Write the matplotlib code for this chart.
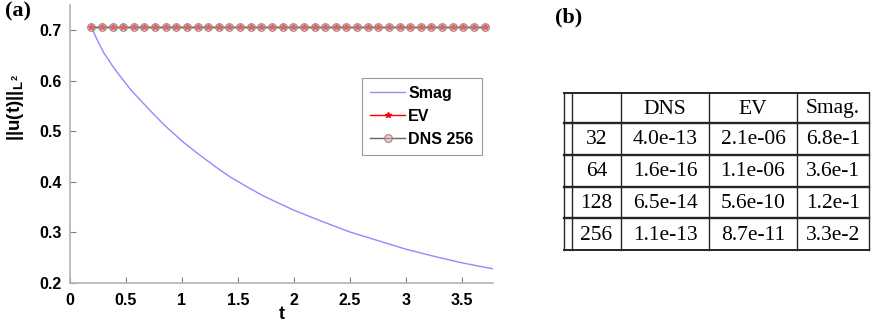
import numpy as np
import matplotlib
matplotlib.use("Agg")
import matplotlib.pyplot as plt
from matplotlib.ticker import FormatStrFormatter

plt.rcParams['font.family'] = ['Liberation Sans', 'DejaVu Sans']
plt.rcParams['mathtext.fontset'] = 'custom'
plt.rcParams['mathtext.rm'] = 'Liberation Sans:bold'
plt.rcParams['mathtext.it'] = 'Liberation Sans:bold'
plt.rcParams['mathtext.bf'] = 'Liberation Sans:bold'

# ---- panel (a) data ----
t_smag = [0.19, 0.22, 0.25, 0.30, 0.40, 0.54, 0.70, 0.84, 1.00, 1.13, 1.30,
          1.43, 1.60, 1.73, 2.00, 2.25, 2.50, 2.75, 3.00, 3.25, 3.50, 3.78]
smag = [0.707, 0.692, 0.678, 0.656, 0.623, 0.583, 0.545, 0.513, 0.481, 0.458,
        0.430, 0.410, 0.388, 0.372, 0.344, 0.322, 0.301, 0.284, 0.267, 0.253,
        0.240, 0.228]

t_ev = [0.19, 0.285, 0.38, 0.475, 0.57, 0.665, 0.76, 0.855, 0.95, 1.045,
        1.14, 1.235, 1.33, 1.425, 1.52, 1.615, 1.71, 1.805, 1.90, 1.995,
        2.09, 2.185, 2.28, 2.375, 2.47, 2.565, 2.66, 2.755, 2.85, 2.945,
        3.04, 3.135, 3.23, 3.325, 3.42, 3.515, 3.61, 3.705]
ev = [0.7071] * len(t_ev)
dns = [0.7071] * len(t_ev)

# ---- panel (b) table ----
col_labels = ["", "DNS", "EV", "Smag."]
row_labels = ["32", "64", "128", "256"]
dns_err = ["4.0e-13", "1.6e-16", "6.5e-14", "1.1e-13"]
ev_err = ["2.1e-06", "1.1e-06", "5.6e-10", "8.7e-11"]
smag_err = ["6.8e-1", "3.6e-1", "1.2e-1", "3.3e-2"]

W, H = 872, 329
fig = plt.figure(figsize=(W / 100, H / 100), dpi=100)

ax = fig.add_axes([70 / W, (H - 283) / H, (493 - 70) / W, (283 - 5) / H])
ax.plot(t_smag, smag, color=(0.55, 0.55, 1.0), lw=1.0, label="Smag")
ax.plot(t_ev, ev, color='red', lw=1.0, marker='*', ms=4, label="EV")
ax.plot(t_ev, dns, color='0.4', lw=1.0, marker='o', ms=5.5, mfc=(1, 0.6, 0.6, 0.5),
        mec='0.55', mew=0.8, label="DNS 256")

ax.set_xlim(0, 3.78)
ax.set_ylim(0.2, 0.75)
ax.set_xticks(np.arange(0, 3.6, 0.5))
ax.set_yticks([0.2, 0.3, 0.4, 0.5, 0.6, 0.7])
ax.xaxis.set_major_formatter(FormatStrFormatter('%g'))
ax.yaxis.set_major_formatter(FormatStrFormatter('%g'))
for s in ['top', 'right']:
    ax.spines[s].set_visible(False)
for s in ['left', 'bottom']:
    ax.spines[s].set_color('0.7')
    ax.spines[s].set_linewidth(1.2)
ax.tick_params(direction='in', length=4, color='0.5', labelsize=11.5)
ax.tick_params(axis='y', pad=6)
ax.tick_params(axis='x', pad=7)
for lab in ax.get_xticklabels() + ax.get_yticklabels():
    lab.set_fontweight('bold')
ax.set_xlabel('t', fontsize=13, fontweight='bold', labelpad=-1)
ax.set_ylabel(r'||u(t)||$_{L^2}$', fontsize=13.5, fontweight='bold')
ax.yaxis.set_label_coords(-0.105, 0.63)

leg = ax.legend(loc='upper left', bbox_to_anchor=(362 / W, 1 - 78 / H),
                bbox_transform=fig.transFigure, borderaxespad=0,
                fancybox=False, edgecolor='0.5', fontsize=11.5,
                handlelength=2.2, borderpad=0.5, labelspacing=0.5,
                handletextpad=0.2)
leg.get_frame().set_linewidth(0.8)
for txt in leg.get_texts():
    txt.set_fontweight('bold')

fig.text(5 / W, 1 - 11 / H, '(a)', family=['Liberation Serif'],
         fontweight='bold', fontsize=16, va='center')
fig.text(555 / W, 1 - 17 / H, '(b)', family=['Liberation Serif'],
         fontweight='bold', fontsize=16, va='center')

# table drawn on a pixel-coordinate axes
tx = fig.add_axes([0, 0, 1, 1])
tx.set_xlim(0, W)
tx.set_ylim(H, 0)
tx.axis('off')
col_x = [572, 621, 709, 797, 869]
row_y = [93, 123, 155, 187, 218, 250]
for k, y in enumerate(row_y):
    tx.plot([564, col_x[-1]], [y, y], color='0.15',
            lw=1.4 if k in (0, len(row_y) - 1) else 1.7)
for x in [564] + col_x:
    tx.plot([x, x], [row_y[0], row_y[-1]], color='0.15', lw=1.0)

cells = [col_labels] + [[r, d, e, s] for r, d, e, s in
                        zip(row_labels, dns_err, ev_err, smag_err)]
for i, row in enumerate(cells):
    yc = (row_y[i] + row_y[i + 1]) / 2
    for j, txt in enumerate(row):
        xc = (col_x[j] + col_x[j + 1]) / 2
        tx.text(xc, yc + 1, txt, ha='center', va='center', fontsize=15.5,
                family=['Liberation Serif'])

fig.savefig('out.png', dpi=100)
